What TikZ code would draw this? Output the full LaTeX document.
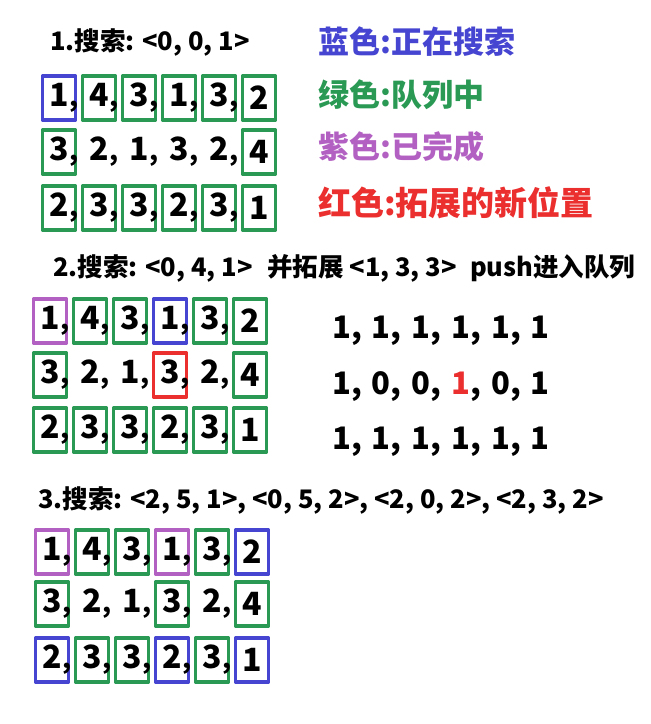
\documentclass[tikz,border=0pt]{standalone}
\usepackage{fontspec}
\setmainfont{Noto Sans CJK SC}
\definecolor{bluebox}{rgb}{0.27,0.27,0.82}
\definecolor{greenbox}{rgb}{0.16,0.6,0.33}
\definecolor{purplebox}{rgb}{0.7,0.38,0.76}
\definecolor{redbox}{rgb}{0.92,0.18,0.18}

\begin{document}
\begin{tikzpicture}[line cap=round,line join=round,x=1pt,y=-1pt,
  head/.style={anchor=west,inner sep=0pt,font=\fontsize{25.5}{25.5}\selectfont\bfseries},
  legend/.style={anchor=west,inner sep=0pt,font=\fontsize{31}{31}\selectfont\bfseries},
  cell/.style={draw=#1,line width=3.2pt,inner sep=0pt,minimum width=33pt,minimum height=44pt,
    font=\fontsize{32}{32}\selectfont\bfseries},
  mat/.style={anchor=west,inner sep=0pt,font=\fontsize{31}{31}\selectfont\bfseries}]
  \useasboundingbox (0,0) rectangle (651,724);
  \def\cm{\rlap{\kern0.5pt\fontsize{26}{26}\selectfont,}}
  % legend
  \node[legend,text=bluebox] (lblue) at (318,42) {蓝色:正在搜索};
  \node[legend,text=greenbox] (lgreen) at (318,95) {绿色:队列中};
  \node[legend,text=purplebox] (lpurple) at (318,147) {紫色:已完成};
  \node[legend,text=redbox,font=\fontsize{33}{33}\selectfont\bfseries] (lred) at (318,203) {红色:拓展的新位置};
  % step 1
  \node[head] (h1) at (50,42) {1.搜索: <0, 0, 1>};
  \foreach \d/\c [count=\i] in {1/bluebox,4/greenbox,3/greenbox,1/greenbox,3/greenbox,2/greenbox}
    \node[cell=\c] (a1\i) at ({19+40*\i},98) {\d\ifnum\i<6\cm\fi};
  \foreach \d/\c [count=\i] in {3/greenbox,2/none,1/none,3/none,2/none,4/greenbox}
    \node[cell=\c] (a2\i) at ({19+40*\i},152) {\d\ifnum\i<6\cm\fi};
  \foreach \d/\c [count=\i] in {2/greenbox,3/greenbox,3/greenbox,2/greenbox,3/greenbox,1/greenbox}
    \node[cell=\c] (a3\i) at ({19+40*\i},208) {\d\ifnum\i<6\cm\fi};
  % step 2
  \node[head] (h2) at (53,268) {2.搜索: <0, 4, 1>};
  \node[head] (h2b) at (267,268) {并拓展 <1, 3, 3>};
  \node[head] (h2c) at (470,268) {push进入队列};
  \foreach \d/\c [count=\i] in {1/purplebox,4/greenbox,3/greenbox,1/bluebox,3/greenbox,2/greenbox}
    \node[cell=\c] (b1\i) at ({10+40*\i},321) {\d\ifnum\i<6\cm\fi};
  \foreach \d/\c [count=\i] in {3/greenbox,2/none,1/none,3/redbox,2/none,4/greenbox}
    \node[cell=\c] (b2\i) at ({10+40*\i},375) {\d\ifnum\i<6\cm\fi};
  \foreach \d/\c [count=\i] in {2/greenbox,3/greenbox,3/greenbox,2/greenbox,3/greenbox,1/greenbox}
    \node[cell=\c] (b3\i) at ({10+40*\i},430) {\d\ifnum\i<6\cm\fi};
  \node[mat] (m1) at (332,331) {\spaceskip=10pt 1, 1, 1, 1, 1, 1};
  \node[mat] (m2) at (332,387) {\spaceskip=10pt 1, 0, 0, \textcolor{redbox}{1}, 0, 1};
  \node[mat] (m3) at (332,442) {\spaceskip=10pt 1, 1, 1, 1, 1, 1};
  % step 3
  \node[head] (h3) at (38,500) {3.搜索: <2, 5, 1>, <0, 5, 2>, <2, 0, 2>, <2, 3, 2>};
  \foreach \d/\c [count=\i] in {1/purplebox,4/greenbox,3/greenbox,1/purplebox,3/greenbox,2/bluebox}
    \node[cell=\c] (c1\i) at ({12+40*\i},552) {\d\ifnum\i<6\cm\fi};
  \foreach \d/\c [count=\i] in {3/greenbox,2/none,1/none,3/greenbox,2/none,4/greenbox}
    \node[cell=\c] (c2\i) at ({12+40*\i},604) {\d\ifnum\i<6\cm\fi};
  \foreach \d/\c [count=\i] in {2/bluebox,3/greenbox,3/greenbox,2/bluebox,3/greenbox,1/bluebox}
    \node[cell=\c] (c3\i) at ({12+40*\i},660) {\d\ifnum\i<6\cm\fi};
\end{tikzpicture}
\end{document}
